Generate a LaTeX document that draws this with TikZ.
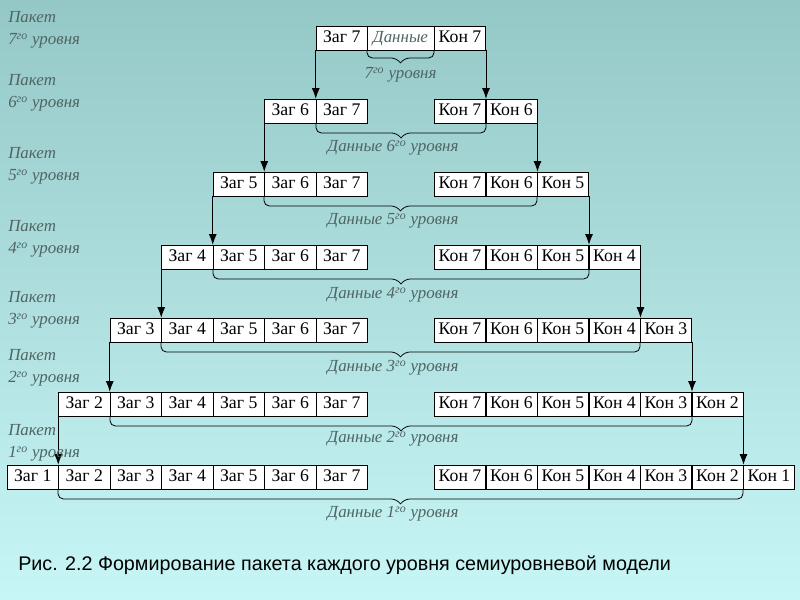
\documentclass[tikz,border=0pt]{standalone}
\usepackage{fontspec}
\setmainfont{Liberation Serif}
\newfontfamily\arialf{Liberation Sans}
\usetikzlibrary{arrows.meta}
\definecolor{bgtop}{RGB}{148,200,198}
\definecolor{bgbot}{RGB}{200,246,246}
\definecolor{lbl}{RGB}{80,100,100}
\tikzset{cell/.style={draw=black,fill=white,minimum width=38.6pt,minimum height=18pt,inner sep=0pt,text height=9.5pt,text depth=2.5pt,font=\fontsize{13.3}{13.3}\selectfont},
lab/.style={text=lbl,font=\itshape\fontsize{12.7}{12.7}\selectfont,inner sep=0pt},
arr/.style={-{Latex[length=8pt,width=6pt]},line width=0.6pt},
brc/.style={rounded corners=4pt,line width=0.6pt}}
\begin{document}
\begin{tikzpicture}[x=0.75pt,y=-0.75pt]
\shade[top color=bgtop,bottom color=bgbot] (0,0) rectangle (800,600);
\useasboundingbox (0,0) rectangle (800,600);
\foreach \r/\y in {7/38,6/111,5/184,4/257,3/330,2/404,1/477}{
  \foreach \i in {\r,...,7}{
    \node[cell] (z-\r-\i) at ({341.75-(7-\i)*51.5},\y) {Заг \i};
    \node[cell] (k-\r-\i) at ({460+(7-\i)*51.5},\y) {Кон \i};
  }
}
\node[cell,minimum width=50.25pt,font=\itshape\fontsize{12.7}{12.7}\selectfont,text=lbl] (d7) at (400.5,38) {Данные};
\foreach \r [evaluate=\r as \s using int(\r-1)] in {7,6,5,4,3,2}{
  \draw[arr] (z-\r-\r.south west) -- (z-\s-\r.north west);
  \draw[arr] (k-\r-\r.south east) -- (k-\s-\r.north east);
}
% braces
\foreach \r/\yb/\xl/\xr in {6/123/316/486,5/196/264/537,4/269/213/589,3/342/161/640,2/416/110/692,1/489/58/743}{
  \draw[brc] (\xl,\yb) -- (\xl,\yb+10) -- ({(\xl+\xr)/2-4},\yb+10) -- ({(\xl+\xr)/2},\yb+15);
  \draw[brc] (\xr,\yb) -- (\xr,\yb+10) -- ({(\xl+\xr)/2+4},\yb+10) -- ({(\xl+\xr)/2},\yb+15);
}
\draw[brc] (367,50) -- (367,58) -- (396.5,58) -- (400.5,63);
\draw[brc] (434,50) -- (434,58) -- (404.5,58) -- (400.5,63);
\node[lab] (t7) at (400.5,75) {7\textsuperscript{го} уровня};
\foreach \r/\y in {6/148,5/221,4/295,3/368,2/439,1/514}{
  \node[lab] (t\r) at (393,\y) {Данные \r\textsuperscript{го} уровня};
}
\foreach \r/\y in {7/17,6/80,5/153,4/226,3/297,2/355,1/430}{
  \node[lab,anchor=west] (p\r) at (8,\y) {Пакет};
  \node[lab,anchor=west] (q\r) at (8,\y+24) {\r\textsuperscript{го} уровня};
}
\node[anchor=west,inner sep=0pt,font=\arialf\fontsize{14.8}{14.8}\selectfont] (cap) at (18,565) {Рис. 2.2 Формирование пакета каждого уровня семиуровневой модели};
\end{tikzpicture}
\end{document}
